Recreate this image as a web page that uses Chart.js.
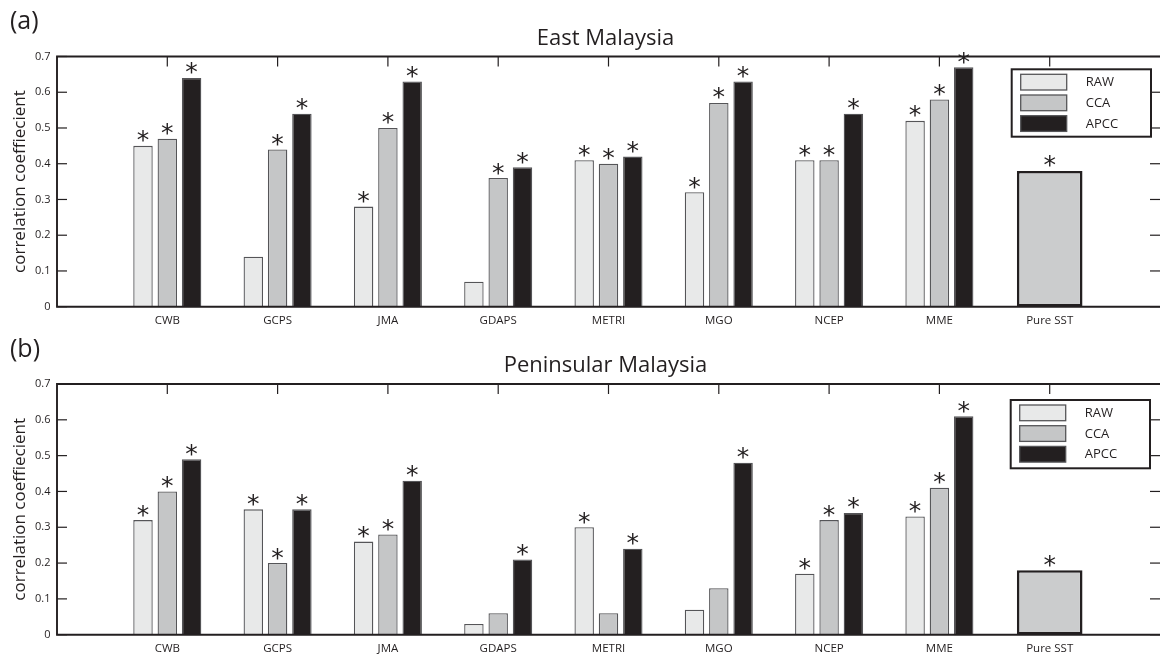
<!DOCTYPE html>
<html>
<head>
<meta charset="utf-8">
<script src="https://cdn.jsdelivr.net/npm/chart.js@4.4.1/dist/chart.umd.min.js"></script>
<style>
  html, body { margin: 0; padding: 0; background: #ffffff; }
  #wrap { position: relative; width: 1160px; height: 655px; overflow: hidden; background: #ffffff; }
  .panel { position: absolute; left: 0; width: 1160px; }
  canvas { display: block; }
</style>
</head>
<body>
<div id="wrap">
  <div class="panel" style="top:0px;height:330px"><canvas id="east" width="1160" height="330"></canvas></div>
  <div class="panel" style="top:328px;height:327px"><canvas id="peninsular" width="1160" height="327"></canvas></div>
</div>
<script>
// ---- data ----
const models = ['CWB', 'GCPS', 'JMA', 'GDAPS', 'METRI', 'MGO', 'NCEP', 'MME', 'Pure SST'];
const seriesNames = ['RAW', 'CCA', 'APCC', 'Pure SST'];
const yTickValues = [0, 0.1, 0.2, 0.3, 0.4, 0.5, 0.6, 0.7];
const yTickLabels = ['0', '0.1', '0.2', '0.3', '0.4', '0.5', '0.6', '0.7'];

// East Malaysia (CWB .. MME)
const eastRaw  = [0.45, 0.14, 0.28, 0.07, 0.41, 0.32, 0.41, 0.52];
const eastCca  = [0.47, 0.44, 0.50, 0.36, 0.40, 0.57, 0.41, 0.58];
const eastApcc = [0.64, 0.54, 0.63, 0.39, 0.42, 0.63, 0.54, 0.67];
const eastSst  = 0.38;
// significance flags (asterisk drawn when 1)
const eastRawSig  = [1, 0, 1, 0, 1, 1, 1, 1];
const eastCcaSig  = [1, 1, 1, 1, 1, 1, 1, 1];
const eastApccSig = [1, 1, 1, 1, 1, 1, 1, 1];
const eastSstSig  = 1;

// Peninsular Malaysia (CWB .. MME)
const penRaw  = [0.32, 0.35, 0.26, 0.03, 0.30, 0.07, 0.17, 0.33];
const penCca  = [0.40, 0.20, 0.28, 0.06, 0.06, 0.13, 0.32, 0.41];
const penApcc = [0.49, 0.35, 0.43, 0.21, 0.24, 0.48, 0.34, 0.61];
const penSst  = 0.18;
const penRawSig  = [1, 1, 1, 0, 1, 0, 1, 1];
const penCcaSig  = [1, 1, 1, 0, 0, 0, 1, 1];
const penApccSig = [1, 1, 1, 1, 1, 1, 1, 1];
const penSstSig  = 1;

// ---- styling ----
const INK = '#231f20';
const FONT = '"Open Sans", "Liberation Sans", sans-serif';
const fills = ['#e8e9e9', '#c5c6c7', '#231f20'];
const edge = '#555558';

// x positions 0..10: empty slots at both ends, models at 1..9
const xLabels = ['', ...models, ''];
const padModels = arr => [null, ...arr, null, null];
const padSst = v => { const a = new Array(xLabels.length).fill(null); a[9] = v; return a; };

function buildDatasets(raw, cca, apcc, sst, sigs) {
  const groups = [raw, cca, apcc].map((vals, k) => ({
    label: seriesNames[k],
    data: padModels(vals),
    sig: padModels(sigs[k]),
    backgroundColor: fills[k],
    borderColor: edge,
    borderWidth: 1.3,
    borderSkipped: 'start',
    categoryPercentage: 0.661,
    barPercentage: 0.80
  }));
  // the single Pure SST bar sits centred on its own category
  groups.push({
    label: seriesNames[3],
    data: padSst(sst),
    sig: padSst(sigs[3]),
    grouped: false,
    backgroundColor: '#cbcccd',
    borderColor: INK,
    borderWidth: 2.6,
    borderSkipped: false,
    categoryPercentage: 1,
    barPercentage: 0.595
  });
  return groups;
}

// axes frame with inward tick marks
const framePlugin = {
  id: 'frame',
  beforeDatasetsDraw(chart) {
    const { ctx, chartArea: a, scales: { x } } = chart;
    ctx.save();
    ctx.strokeStyle = INK;
    ctx.lineWidth = 1.2;
    models.forEach((_, i) => {
      const px = x.getPixelForValue(i + 1);
      ctx.beginPath(); ctx.moveTo(px, a.bottom); ctx.lineTo(px, a.bottom - 10); ctx.stroke();
    });
    ctx.restore();
  },
  afterDatasetsDraw(chart) {
    const { ctx, chartArea: a, scales: { x, y } } = chart;
    ctx.save();
    ctx.strokeStyle = INK;
    ctx.lineWidth = 1.2;
    models.forEach((_, i) => {
      const px = x.getPixelForValue(i + 1);
      ctx.beginPath(); ctx.moveTo(px, a.top); ctx.lineTo(px, a.top + 10); ctx.stroke();
    });
    yTickValues.forEach(v => {
      const py = y.getPixelForValue(v);
      ctx.beginPath(); ctx.moveTo(a.left, py); ctx.lineTo(a.left + 10, py); ctx.stroke();
      ctx.beginPath(); ctx.moveTo(a.right, py); ctx.lineTo(a.right - 10, py); ctx.stroke();
    });
    ctx.lineWidth = 1.9;
    ctx.beginPath();
    ctx.moveTo(a.right + 2, a.top);
    ctx.lineTo(a.left, a.top);
    ctx.lineTo(a.left, a.bottom);
    ctx.lineTo(a.right + 2, a.bottom);
    ctx.stroke();
    ctx.restore();
  }
};

// asterisks above significant bars
const significancePlugin = {
  id: 'significance',
  afterDatasetsDraw(chart) {
    const ctx = chart.ctx;
    ctx.save();
    ctx.fillStyle = INK;
    ctx.font = '25px "DejaVu Sans"';
    ctx.textAlign = 'center';
    ctx.textBaseline = 'alphabetic';
    const m = ctx.measureText('*');
    const asc = m.actualBoundingBoxAscent, desc = m.actualBoundingBoxDescent;
    chart.getSortedVisibleDatasetMetas().forEach(meta => {
      const ds = chart.data.datasets[meta.index];
      meta.data.forEach((el, i) => {
        if (!ds.sig || !ds.sig[i] || ds.data[i] == null) return;
        const cy = el.y - 9.5;
        ctx.fillText('*', el.x, cy + (asc - desc) / 2);
      });
    });
    ctx.restore();
  }
};

// panel letter, title, axis title and legend box
const decorPlugin = {
  id: 'decor',
  afterDraw(chart, args, opts) {
    const { ctx, chartArea: a } = chart;
    ctx.save();
    ctx.fillStyle = INK;

    ctx.font = '25px ' + FONT;
    ctx.textAlign = 'left';
    ctx.textBaseline = 'middle';
    ctx.fillText(opts.letter, 10, opts.letterY);

    ctx.font = '22px ' + FONT;
    ctx.textAlign = 'center';
    ctx.textBaseline = 'alphabetic';
    ctx.fillText(opts.title, (a.left + a.right) / 2 - 3, a.top - 12);

    ctx.save();
    ctx.translate(20, (a.top + a.bottom) / 2);
    ctx.rotate(-Math.PI / 2);
    ctx.font = '17px ' + FONT;
    ctx.textAlign = 'center';
    ctx.textBaseline = 'middle';
    ctx.fillText(opts.yTitle, 0, 0);
    ctx.restore();

    const b = opts.legendBox;
    ctx.fillStyle = '#ffffff';
    ctx.fillRect(b.x, b.y, b.w, b.h);
    ctx.strokeStyle = INK;
    ctx.lineWidth = 2;
    ctx.strokeRect(b.x, b.y, b.w, b.h);
    ctx.font = '13px ' + FONT;
    ctx.textAlign = 'left';
    ctx.textBaseline = 'middle';
    for (let k = 0; k < 3; k++) {
      const ry = b.y + 5 + k * 20.7;
      ctx.fillStyle = fills[k];
      ctx.fillRect(b.x + 9, ry, 46, 15.7);
      ctx.strokeStyle = edge;
      ctx.lineWidth = 1.3;
      ctx.strokeRect(b.x + 9, ry, 46, 15.7);
      ctx.fillStyle = INK;
      ctx.fillText(seriesNames[k], b.x + 74, ry + 8.3);
    }
    ctx.restore();
  }
};

function makeChart(id, datasets, panel) {
  const H = panel.height;
  return new Chart(document.getElementById(id), {
    type: 'bar',
    data: { labels: xLabels, datasets },
    plugins: [framePlugin, significancePlugin, decorPlugin],
    options: {
      responsive: false,
      animation: false,
      events: [],
      layout: { padding: { top: panel.top, left: 0, right: 0, bottom: 0 } },
      plugins: {
        legend: { display: false },
        tooltip: { enabled: false },
        decor: panel.decor
      },
      scales: {
        x: {
          type: 'category',
          offset: false,
          grid: { display: false, drawTicks: false },
          border: { display: false },
          ticks: {
            autoSkip: false, maxRotation: 0, minRotation: 0, padding: 7.5,
            color: INK, font: { family: FONT, size: 11.5 }
          },
          afterFit(s) {
            s.height = H - panel.bottom;
            s.paddingLeft = 0;
            s.paddingRight = 0;
          }
        },
        y: {
          min: 0, max: 0.7,
          grid: { display: false, drawTicks: false },
          border: { display: false },
          afterBuildTicks(s) { s.ticks = yTickValues.map(v => ({ value: v })); },
          ticks: {
            padding: 6.5,
            color: INK,
            font: { family: FONT, size: 11 },
            callback: (v, i) => yTickLabels[i]
          },
          afterFit(s) {
            s.width = 57;
            s.paddingTop = 0;
            s.paddingBottom = 0;
          }
        }
      }
    }
  });
}

makeChart('east',
  buildDatasets(eastRaw, eastCca, eastApcc, eastSst, [eastRawSig, eastCcaSig, eastApccSig, eastSstSig]),
  {
    height: 330, top: 56.5, bottom: 306.7,
    decor: {
      letter: '(a)', letterY: 21.5, title: 'East Malaysia',
      yTitle: 'correlation coeffiecient',
      legendBox: { x: 1011.7, y: 69.3, w: 139.3, h: 67.4 }
    }
  });

makeChart('peninsular',
  buildDatasets(penRaw, penCca, penApcc, penSst, [penRawSig, penCcaSig, penApccSig, penSstSig]),
  {
    height: 327, top: 56, bottom: 306.7,
    decor: {
      letter: '(b)', letterY: 22, title: 'Peninsular Malaysia',
      yTitle: 'correlation coeffiecient',
      legendBox: { x: 1010.7, y: 72, w: 139.3, h: 68.3 }
    }
  });
</script>
</body>
</html>
